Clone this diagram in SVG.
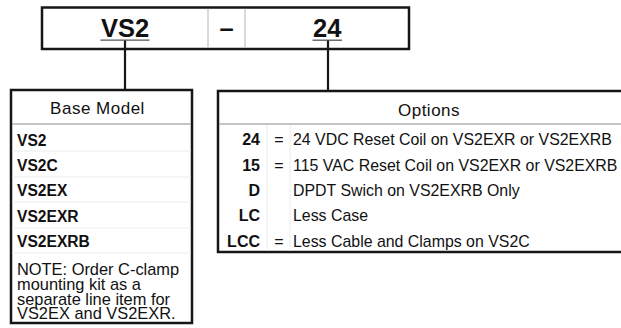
<svg xmlns="http://www.w3.org/2000/svg" width="621" height="328" viewBox="0 0 621 328">
<style>
text{font-family:"Liberation Sans",Arial,sans-serif;fill:#111}
.frame{fill:#fff;stroke:#161616;stroke-width:2.5}
.hdr{stroke:#8a8a8a;stroke-width:1}
.faint{stroke:#ececec;stroke-width:1}
.div{stroke:#b4b4b4;stroke-width:1}
.conn{stroke:#161616;stroke-width:2.2;fill:none}
.ul{stroke:#555;stroke-width:1.3}
.big{font-size:25.5px;font-weight:bold;text-anchor:middle}
.h{font-size:17px;text-anchor:middle;letter-spacing:0.5px}
.m{font-size:15.6px;font-weight:bold}
.c{font-size:16px;font-weight:bold;text-anchor:end}
.e{font-size:16px;text-anchor:middle}
.d{font-size:15.9px}
.n{font-size:16.4px}
</style>
<rect width="621" height="328" fill="#fff"/>
<g id="part-number">
<rect class="frame" x="42" y="7.5" width="367" height="41.5"/>
<line class="div" x1="208" y1="8.8" x2="208" y2="47.7"/>
<line class="div" x1="245" y1="8.8" x2="245" y2="47.7"/>
<text class="big" x="125" y="36.7">VS2</text>
<line class="ul" x1="100.5" y1="40.2" x2="149.5" y2="40.2"/>
<text class="big" x="226.5" y="36.7">–</text>
<text class="big" x="327.3" y="36.7">24</text>
<line class="ul" x1="312.5" y1="40.2" x2="342" y2="40.2"/>
</g>
<g id="connectors">
<line class="conn" x1="125" y1="40.5" x2="125" y2="90"/>
<line class="conn" x1="328" y1="40.5" x2="328" y2="91"/>
</g>
<g id="base-model">
<rect class="frame" x="11" y="90" width="181" height="233"/>
<line class="hdr" x1="12.3" y1="124" x2="190.7" y2="124"/>
<line class="faint" x1="12.3" y1="151" x2="190.7" y2="151"/>
<line class="faint" x1="12.3" y1="177" x2="190.7" y2="177"/>
<line class="faint" x1="12.3" y1="202" x2="190.7" y2="202"/>
<line class="faint" x1="12.3" y1="228" x2="190.7" y2="228"/>
<line class="faint" x1="12.3" y1="253" x2="190.7" y2="253"/>
<text class="h" x="97.5" y="114">Base Model</text>
<text class="m" x="17" y="145.5">VS2</text>
<text class="m" x="17" y="171">VS2C</text>
<text class="m" x="17" y="196">VS2EX</text>
<text class="m" x="17" y="221.5">VS2EXR</text>
<text class="m" x="17" y="247">VS2EXRB</text>
<text class="n" x="17" y="275"><tspan x="17" y="275">NOTE: Order C-clamp</tspan><tspan x="17" y="289.7">mounting kit as a</tspan><tspan x="17" y="304.5">separate line item for</tspan><tspan x="17" y="319.3">VS2EX and VS2EXR.</tspan></text>
</g>
<g id="options">
<rect class="frame" x="218" y="91" width="422" height="161"/>
<line class="hdr" x1="219.3" y1="124" x2="640" y2="124"/>
<line class="faint" x1="267" y1="125" x2="267" y2="250.7"/>
<line class="faint" x1="290" y1="125" x2="290" y2="250.7"/>
<text class="h" x="429" y="116">Options</text>
<text class="c" x="260" y="145">24</text>
<text class="e" x="279" y="145">=</text>
<text class="d" x="293" y="145">24 VDC Reset Coil on VS2EXR or VS2EXRB</text>
<text class="c" x="260" y="170.5">15</text>
<text class="e" x="279" y="170.5">=</text>
<text class="d" x="293" y="170.5">115 VAC Reset Coil on VS2EXR or VS2EXRB</text>
<text class="c" x="260" y="196">D</text>
<text class="d" x="293" y="196">DPDT Swich on VS2EXRB Only</text>
<text class="c" x="260" y="221">LC</text>
<text class="d" x="293" y="221">Less Case</text>
<text class="c" x="260" y="246.5">LCC</text>
<text class="e" x="279" y="246.5">=</text>
<text class="d" x="293" y="246.5">Less Cable and Clamps on VS2C</text>
</g>
</svg>
